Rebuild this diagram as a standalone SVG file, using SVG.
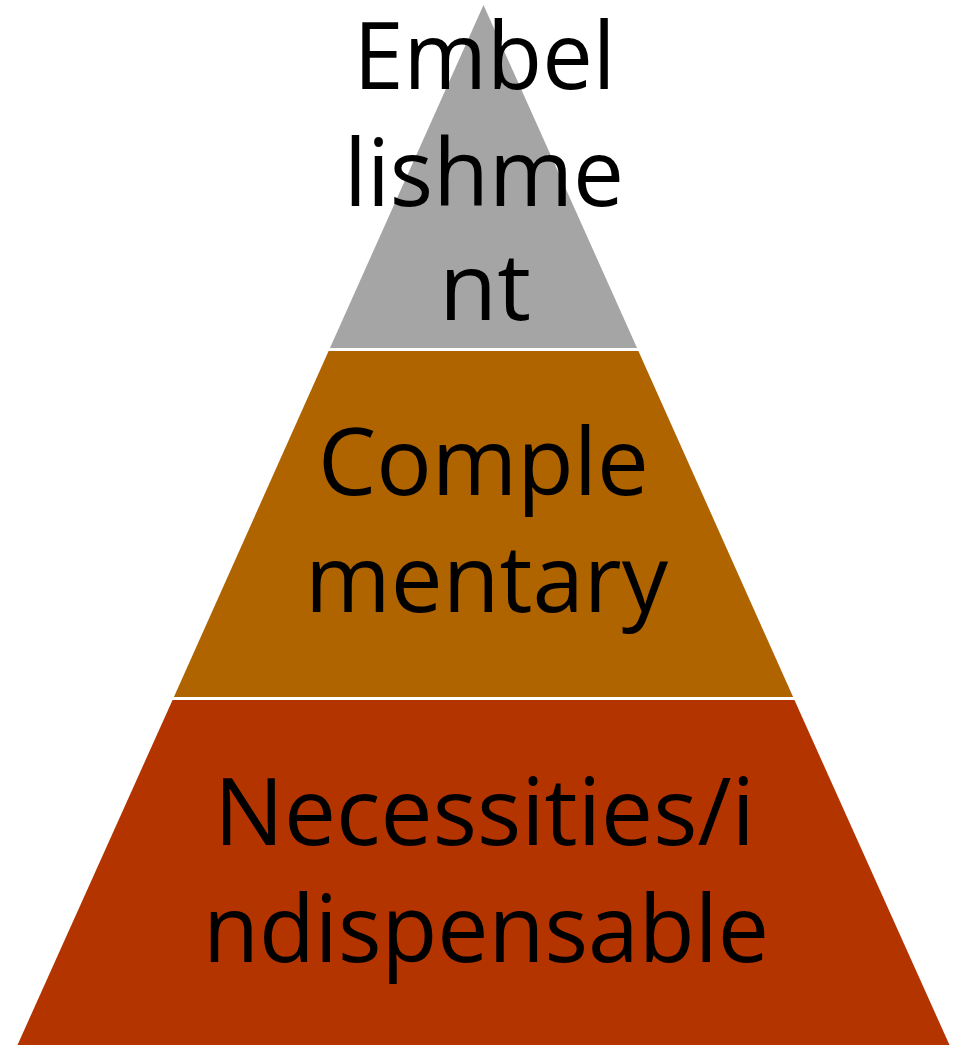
<svg xmlns="http://www.w3.org/2000/svg" width="957" height="1045" viewBox="0 0 957 1045">
<style>
.lbl{font-family:"Open Sans","Noto Sans",sans-serif;font-size:94px;fill:#000;text-anchor:middle}
.sep{stroke:#fff;stroke-width:3}
</style>
<rect width="957" height="1045" fill="#fff"/>
<g id="top">
<polygon points="483.5,5 637.5,349 329.5,349" fill="#A5A5A5"/>
</g>
<g id="middle">
<polygon points="329.5,349 637.5,349 794,699 173,699" fill="#AF6400"/>
</g>
<g id="bottom">
<polygon points="173,699 794,699 949.5,1045 17.5,1045" fill="#B43400"/>
</g>
<g id="connectors">
<line class="sep" x1="320" y1="349.5" x2="650" y2="349.5"/>
<line class="sep" x1="160" y1="698.5" x2="810" y2="698.5"/>
</g>
<g id="labels">
<text class="lbl" x="484.5" y="89" textLength="262" lengthAdjust="spacingAndGlyphs">Embel</text>
<text class="lbl" x="484" y="206" textLength="280" lengthAdjust="spacingAndGlyphs">lishme</text>
<text class="lbl" x="485" y="320" textLength="92" lengthAdjust="spacingAndGlyphs">nt</text>
<text class="lbl" x="483.5" y="495" textLength="331" lengthAdjust="spacingAndGlyphs">Comple</text>
<text class="lbl" x="486.5" y="612" textLength="363" lengthAdjust="spacingAndGlyphs">mentary</text>
<text class="lbl" x="484.5" y="845" textLength="541" lengthAdjust="spacingAndGlyphs">Necessities/i</text>
<text class="lbl" x="486" y="962" textLength="566" lengthAdjust="spacingAndGlyphs">ndispensable</text>
</g>
</svg>
